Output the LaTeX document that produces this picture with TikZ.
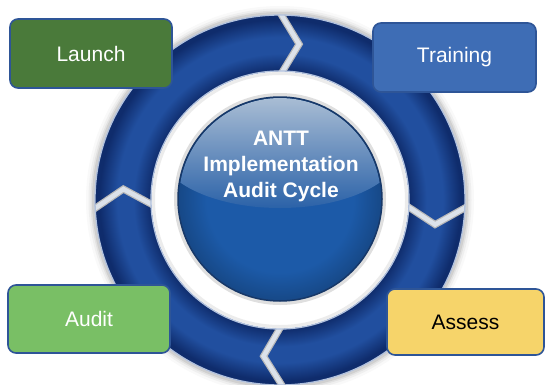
\documentclass[tikz,border=0pt]{standalone}
\usepackage{fontspec}
\setmainfont{Liberation Sans}
\usetikzlibrary{calc}
\definecolor{rdark}{HTML}{0F2C6C}
\definecolor{rmid}{HTML}{214F9F}
\definecolor{bord}{HTML}{2E5597}
\definecolor{launchc}{HTML}{4A7A3A}
\definecolor{trainc}{HTML}{3E6DB5}
\definecolor{auditc}{HTML}{79BF65}
\definecolor{assessc}{HTML}{F6D46A}
\definecolor{sphtop}{HTML}{B4C5D8}
\definecolor{sphmid}{HTML}{2B62A8}
\definecolor{sphbase}{HTML}{1C5AA8}
\definecolor{sphrim}{HTML}{173868}
\definecolor{gapc}{HTML}{DCE2EA}
\pgfdeclareradialshading{ringshade}{\pgfpoint{0bp}{0bp}}{%
  color(0bp)=(rdark); color(17.4bp)=(rdark); color(19.8bp)=(rmid);
  color(22bp)=(rmid); color(24.4bp)=(rdark); color(25bp)=(rdark); color(50bp)=(rdark)}
\pgfdeclareradialshading{sphshade}{\pgfpoint{0bp}{0bp}}{%
  color(0bp)=(sphbase); color(18bp)=(sphbase); color(25bp)=(sphbase!80!black); color(50bp)=(sphbase!80!black)}
\begin{document}
\begin{tikzpicture}[x=1pt,y=1pt,
  stage/.style={draw=bord, line width=1.6pt, rounded corners=8pt, text=white,
    font=\fontsize{21}{25}\selectfont, inner sep=0pt},
  gapline/.style={line join=miter, line cap=butt}]
\useasboundingbox (0,0) rectangle (545,384);
\begin{scope}
\clip (0,0) rectangle (545,384);
\coordinate (C) at (280,184);
\coordinate (S) at (280,185);
% soft halo round the ring
\foreach \w/\o in {16/0.05, 11/0.08, 7/0.12, 4/0.18}
  \draw[gray, opacity=\o, line width=\w pt] (C) circle[radius=186];
% ring body
\shade[shading=ringshade] (C) circle[radius=185];
% chevron joints
\begin{scope}
\clip (C) circle[radius=185.5];
\foreach \a in {91,-1,184,272} {
  \draw[gapline, gray!55, line width=7pt] ($(C)+(\a:193)$) -- ($(C)+(\a-8:157)$) -- ($(C)+(\a:121)$);
  \draw[gapline, gapc, line width=4.5pt] ($(C)+(\a:193)$) -- ($(C)+(\a-8:157)$) -- ($(C)+(\a:121)$);
}
\end{scope}
% bevel edges
\draw[white!65!rmid, line width=1.3pt] (C) circle[radius=185];
% inner white band
\fill[white] (C) circle[radius=128.6];
\draw[white!65!rmid, line width=1.3pt] (C) circle[radius=129];
\draw[gray, opacity=0.15, line width=3pt] (C) circle[radius=126.5];
% sphere
\draw[gray, opacity=0.25, line width=4pt] (S) circle[radius=104];
\shade[shading=sphshade] (S) circle[radius=102];
\begin{scope}
\clip (S) circle[radius=101];
\shade[top color=sphtop, bottom color=sphmid] (280,236) ellipse[x radius=122, y radius=60];
\end{scope}
\draw[sphrim, line width=1.5pt] (S) circle[radius=102];
\node[text=white, font=\bfseries\fontsize{21}{26}\selectfont, align=center] (center) at (281,218)
  {ANTT\\Implementation\\Audit Cycle};
% stage boxes
\node[stage, fill=launchc, minimum width=162pt, minimum height=69pt] (launch) at (91,330.5) {Launch};
\node[stage, fill=trainc, minimum width=163pt, minimum height=69pt] (training) at (454.5,326.5) {Training};
\node[stage, fill=auditc, minimum width=162pt, minimum height=68pt] (audit) at (89,65) {Audit};
\node[stage, fill=assessc, text=black, minimum width=157pt, minimum height=66pt] (assess) at (465.5,62) {Assess};
\end{scope}
\end{tikzpicture}
\end{document}
